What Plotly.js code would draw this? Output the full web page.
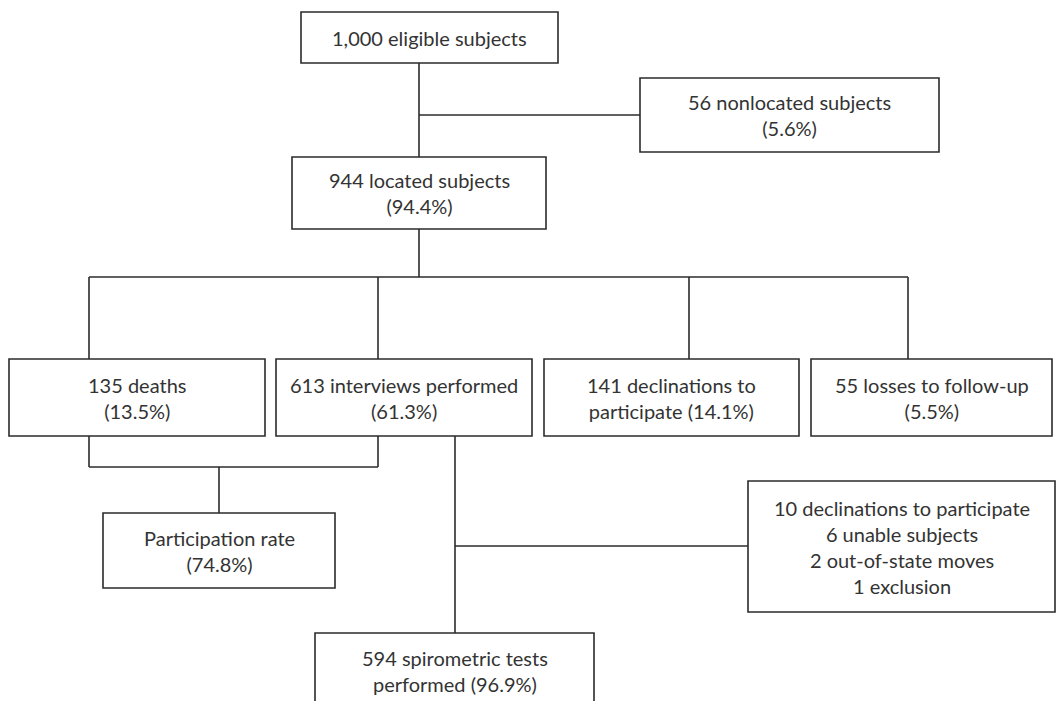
<!DOCTYPE html>
<html>
<head>
<meta charset="utf-8">
<script src="https://cdn.plot.ly/plotly-3.0.1.min.js"></script>
<style>
  html, body { margin: 0; padding: 0; background: #fff; }
  #chart { width: 1058px; height: 701px; }
</style>
</head>
<body>
<div id="chart"></div>
<script>
// ---- Data: flowchart node labels ----
const nodeIds = ["eligible", "nonlocated", "located", "deaths", "interviews", "declinations", "losses", "participation", "excluded", "spirometry"];
const nodeLabels = [
  "1,000 eligible subjects",
  "56 nonlocated subjects<br>(5.6%)",
  "944 located subjects<br>(94.4%)",
  "135 deaths<br>(13.5%)",
  "613 interviews performed<br>(61.3%)",
  "141 declinations to<br>participate (14.1%)",
  "55 losses to follow-up<br>(5.5%)",
  "Participation rate<br>(74.8%)",
  "10 declinations to participate<br>6 unable subjects<br>2 out-of-state moves<br>1 exclusion",
  "594 spirometric tests<br>performed (96.9%)"
];

// ---- Layout geometry (pixel coordinates, y downward) ----
const boxGeom = {
  eligible:      [301, 12, 558, 63],
  nonlocated:    [640, 78, 939, 152],
  located:       [292, 157, 546, 229],
  deaths:        [9, 359, 265, 436],
  interviews:    [276, 359, 532, 436],
  declinations:  [544, 359, 799, 436],
  losses:        [811, 359, 1052, 436],
  participation: [103, 513, 335, 588],
  excluded:      [748, 481, 1055, 612],
  spirometry:    [315, 633, 594, 740]
};
const textCenterY = { spirometry: 671 };
const connectors = [
  [419, 63, 419, 157],
  [419, 115, 640, 115],
  [419, 229, 419, 277],
  [89, 277, 908, 277],
  [89, 277, 89, 359],
  [378, 277, 378, 359],
  [689, 277, 689, 359],
  [908, 277, 908, 359],
  [89, 436, 89, 467],
  [378, 436, 378, 467],
  [89, 467, 378, 467],
  [219, 467, 219, 513],
  [455, 436, 455, 633],
  [455, 546, 748, 546]
];

const lineColor = "#2b2b2b";
const shapes = [];
const annotations = [];

connectors.forEach(c => {
  shapes.push({type: "line", xref: "x", yref: "y", x0: c[0], y0: c[1], x1: c[2], y1: c[3],
    line: {color: lineColor, width: 1.6}});
});

nodeIds.forEach((id, i) => {
  const g = boxGeom[id];
  shapes.push({type: "rect", xref: "x", yref: "y", x0: g[0], y0: g[1], x1: g[2], y1: g[3],
    line: {color: lineColor, width: 1.6}, fillcolor: "rgba(0,0,0,0)"});
  const cy = textCenterY[id] !== undefined ? textCenterY[id] : (g[1] + g[3]) / 2;
  annotations.push({
    x: (g[0] + g[2]) / 2, y: cy, xref: "x", yref: "y",
    text: nodeLabels[i], showarrow: false, xanchor: "center", yanchor: "middle",
    align: "center",
    font: {family: "Lato, 'Noto Sans', sans-serif", size: 20, color: "#333333"}
  });
});

const layout = {
  width: 1058, height: 701,
  margin: {l: 0, r: 0, t: 0, b: 0, pad: 0},
  paper_bgcolor: "#ffffff", plot_bgcolor: "#ffffff",
  showlegend: false,
  xaxis: {range: [0, 1058], visible: false, fixedrange: true},
  yaxis: {range: [701, 0], visible: false, fixedrange: true},
  shapes: shapes,
  annotations: annotations
};

Plotly.newPlot("chart", [{x: [], y: [], type: "scatter", hoverinfo: "skip"}], layout, {displayModeBar: false, staticPlot: true});
</script>
</body>
</html>
